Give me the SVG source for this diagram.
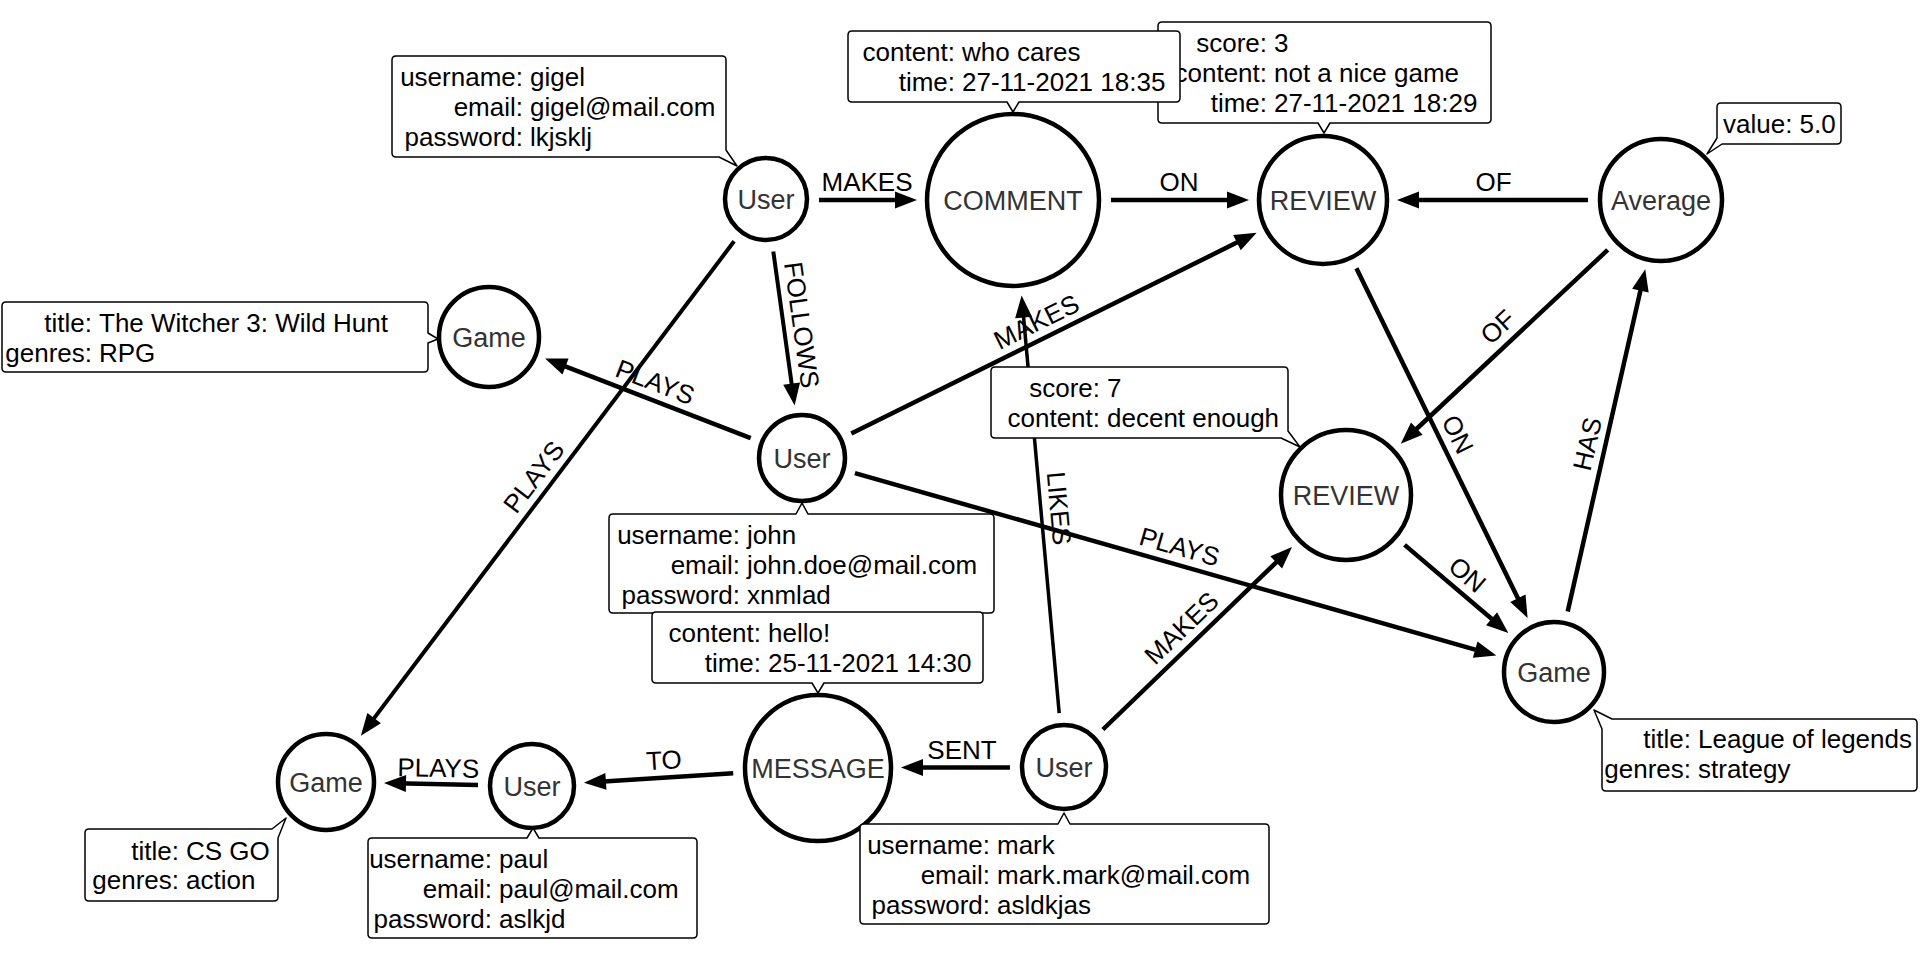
<svg xmlns="http://www.w3.org/2000/svg" width="1920" height="961" viewBox="0 0 1920 961">
  <style>
    .bg { fill: #ffffff; }
    .edge { fill: none; stroke: #000; stroke-width: 4.5; marker-end: url(#arrow); }
    .thin { stroke-width: 3.5; }
    .mid { stroke-width: 4; }
    .elabel { font-family: "Liberation Sans", Arial, sans-serif; font-size: 26px; fill: #000; text-anchor: middle; }
    .node circle { fill: #fff; stroke: #000; stroke-width: 4.5; }
    .ntext { font-family: "Liberation Sans", Arial, sans-serif; font-size: 27px; fill: #333; text-anchor: middle; }
    .callout { fill: #fff; stroke: #000; stroke-width: 1.5; stroke-linejoin: round; }
    .props { font-family: "Liberation Sans", Arial, sans-serif; font-size: 26px; fill: #000; }
    .k { text-anchor: end; }
    .v { text-anchor: start; }
  </style>
  <defs>
    <marker id="arrow" markerUnits="userSpaceOnUse" markerWidth="22" markerHeight="17" refX="10" refY="8.5" orient="auto" overflow="visible">
      <path d="M0,0 L22,8.5 L0,17 Z" fill="#000"/>
    </marker>
  </defs>
  <rect class="bg" x="0" y="0" width="1920" height="961"/>

  <!-- relationships -->
  <g id="connectors">
    <line class="edge" x1="819" y1="200" x2="905" y2="200"/>
    <line class="edge" x1="1111" y1="200" x2="1237" y2="200"/>
    <line class="edge" x1="1588" y1="200" x2="1409" y2="200"/>
    <line class="edge mid" x1="773.3" y1="251.5" x2="793" y2="393.6"/>
    <line class="edge mid" x1="734.1" y1="241.3" x2="368.1" y2="726.1"/>
    <line class="edge" x1="750.7" y1="438.2" x2="556.2" y2="362.9"/>
    <line class="edge" x1="851.3" y1="433.6" x2="1245.9" y2="238.1"/>
    <line class="edge" x1="854.9" y1="473.1" x2="1484.8" y2="652.3"/>
    <line class="edge thin" x1="1059.2" y1="713.2" x2="1022.7" y2="307.5"/>
    <line class="edge" x1="1102.9" y1="729.5" x2="1283.4" y2="555.4"/>
    <line class="edge" x1="1010" y1="767.5" x2="913" y2="767.5"/>
    <line class="edge" x1="733.2" y1="773.3" x2="595.9" y2="782"/>
    <line class="edge" x1="478" y1="785" x2="396" y2="783.3"/>
    <line class="edge" x1="1356.4" y1="268.3" x2="1522.3" y2="607.3"/>
    <line class="edge" x1="1404.6" y1="544.9" x2="1499.2" y2="625.3"/>
    <line class="edge" x1="1607.7" y1="249.9" x2="1409.5" y2="435.5"/>
    <line class="edge" x1="1567.7" y1="611.5" x2="1642.6" y2="280.9"/>

    <text class="elabel" transform="translate(867,200)" y="-9">MAKES</text>
    <text class="elabel" transform="translate(1179,200)" y="-9">ON</text>
    <text class="elabel" transform="translate(1493.5,200)" y="-9">OF</text>
    <text class="elabel" transform="translate(783.9,327.5) rotate(82.09)" y="-9">FOLLOWS</text>
    <text class="elabel" transform="translate(548.1,487.7) rotate(-52.96)" y="-9">PLAYS</text>
    <text class="elabel" transform="translate(648.8,398.8) rotate(21.13)" y="-9">PLAYS</text>
    <text class="elabel" transform="translate(1044.4,338) rotate(-26.34)" y="-9">MAKES</text>
    <text class="elabel" transform="translate(1174.6,564) rotate(15.88)" y="-9">PLAYS</text>
    <text class="elabel" transform="translate(1041,510) rotate(84.86)" y="-9">LIKES</text>
    <text class="elabel" transform="translate(1194,641) rotate(-43.96)" y="-9">MAKES</text>
    <text class="elabel" transform="translate(962,767.5)" y="-9">SENT</text>
    <text class="elabel" transform="translate(665,778) rotate(-3.6)" y="-9">TO</text>
    <text class="elabel" transform="translate(438,783) rotate(1.1)" y="-6">PLAYS</text>
    <text class="elabel" transform="translate(1441.6,442.3) rotate(63.93)" y="-9">ON</text>
    <text class="elabel" transform="translate(1455.7,588.4) rotate(40.4)" y="-9">ON</text>
    <text class="elabel" transform="translate(1510,340) rotate(-43.12)" y="-9">OF</text>
    <text class="elabel" transform="translate(1605,448) rotate(-77.23)" y="-9">HAS</text>
  </g>

  <!-- nodes with their property callouts -->
  <g id="user-gigel" class="node">
    <circle cx="766" cy="199" r="41"/>
    <text class="ntext" x="766" y="208.5">User</text>
    <path class="callout" d="M396,56 H722 Q726,56 726,60 V150 L737,166 L719,157 H396 Q392,157 392,153 V60 Q392,56 396,56 Z"/>
    <text class="props" y="85.5"><tspan class="k" x="523">username:</tspan><tspan class="v" x="530">gigel</tspan></text>
    <text class="props" y="115.5"><tspan class="k" x="523">email:</tspan><tspan class="v" x="530">gigel@mail.com</tspan></text>
    <text class="props" y="145.5"><tspan class="k" x="523">password:</tspan><tspan class="v" x="530">lkjsklj</tspan></text>
  </g>

  <g id="game-witcher" class="node">
    <circle cx="489" cy="337" r="50"/>
    <text class="ntext" x="489" y="346.5">Game</text>
    <path class="callout" d="M6,302 H424 Q428,302 428,306 V333 L438,339 L428,343 V368 Q428,372 424,372 H6 Q2,372 2,368 V306 Q2,302 6,302 Z"/>
    <text class="props" y="331.5"><tspan class="k" x="92">title:</tspan><tspan class="v" x="99">The Witcher 3: Wild Hunt</tspan></text>
    <text class="props" y="361.5"><tspan class="k" x="92">genres:</tspan><tspan class="v" x="99">RPG</tspan></text>
  </g>

  <g id="user-john" class="node">
    <circle cx="802" cy="458" r="43"/>
    <text class="ntext" x="802" y="467.5">User</text>
    <path class="callout" d="M613,514 H796 L802,503 L808,514 H990 Q994,514 994,518 V609 Q994,613 990,613 H613 Q609,613 609,609 V518 Q609,514 613,514 Z"/>
    <text class="props" y="543.5"><tspan class="k" x="740">username:</tspan><tspan class="v" x="747">john</tspan></text>
    <text class="props" y="573.5"><tspan class="k" x="740">email:</tspan><tspan class="v" x="747">john.doe@mail.com</tspan></text>
    <text class="props" y="603.5"><tspan class="k" x="740">password:</tspan><tspan class="v" x="747">xnmlad</tspan></text>
  </g>

  <g id="review-1" class="node">
    <circle cx="1323" cy="200" r="64"/>
    <text class="ntext" x="1323" y="209.5">REVIEW</text>
    <path class="callout" d="M1162,22 H1487 Q1491,22 1491,26 V119 Q1491,123 1487,123 H1330 L1324,133 L1318,123 H1162 Q1158,123 1158,119 V26 Q1158,22 1162,22 Z"/>
    <text class="props" y="51.5"><tspan class="k" x="1267">score:</tspan><tspan class="v" x="1274">3</tspan></text>
    <text class="props" y="81.5"><tspan class="k" x="1267">content:</tspan><tspan class="v" x="1274">not a nice game</tspan></text>
    <text class="props" y="111.5"><tspan class="k" x="1267">time:</tspan><tspan class="v" x="1274">27-11-2021 18:29</tspan></text>
  </g>

  <g id="comment" class="node">
    <circle cx="1013" cy="200" r="86"/>
    <text class="ntext" x="1013" y="209.5">COMMENT</text>
    <path class="callout" d="M852,31 H1176 Q1180,31 1180,35 V98 Q1180,102 1176,102 H1019 L1013,112 L1007,102 H852 Q848,102 848,98 V35 Q848,31 852,31 Z"/>
    <text class="props" y="60.5"><tspan class="k" x="955">content:</tspan><tspan class="v" x="962">who cares</tspan></text>
    <text class="props" y="90.5"><tspan class="k" x="955">time:</tspan><tspan class="v" x="962">27-11-2021 18:35</tspan></text>
  </g>

  <g id="average" class="node">
    <circle cx="1661" cy="200" r="61"/>
    <text class="ntext" x="1661" y="209.5">Average</text>
    <path class="callout" d="M1721,103 H1837 Q1841,103 1841,107 V140 Q1841,144 1837,144 H1722 L1707,154 L1717,138 V107 Q1717,103 1721,103 Z"/>
    <text class="props" x="1723" y="132.5">value: 5.0</text>
  </g>

  <g id="review-2" class="node">
    <circle cx="1346" cy="495" r="65"/>
    <text class="ntext" x="1346" y="504.5">REVIEW</text>
    <path class="callout" d="M995,367 H1284 Q1288,367 1288,371 V431 L1300,447 L1281,438 H995 Q991,438 991,434 V371 Q991,367 995,367 Z"/>
    <text class="props" y="396.5"><tspan class="k" x="1100">score:</tspan><tspan class="v" x="1107">7</tspan></text>
    <text class="props" y="426.5"><tspan class="k" x="1100">content:</tspan><tspan class="v" x="1107">decent enough</tspan></text>
  </g>

  <g id="game-lol" class="node">
    <circle cx="1554" cy="672" r="50"/>
    <text class="ntext" x="1554" y="681.5">Game</text>
    <path class="callout" d="M1612,719 H1913 Q1917,719 1917,723 V787 Q1917,791 1913,791 H1606 Q1602,791 1602,787 V729 L1594,710 Z"/>
    <text class="props" y="748"><tspan class="k" x="1691">title:</tspan><tspan class="v" x="1698">League of legends</tspan></text>
    <text class="props" y="777.5"><tspan class="k" x="1691">genres:</tspan><tspan class="v" x="1698">strategy</tspan></text>
  </g>

  <g id="game-csgo" class="node">
    <circle cx="326" cy="782" r="48"/>
    <text class="ntext" x="326" y="791.5">Game</text>
    <path class="callout" d="M89,829 H272 L286,818 L278,838 V897 Q278,901 274,901 H89 Q85,901 85,897 V833 Q85,829 89,829 Z"/>
    <text class="props" y="859.5"><tspan class="k" x="179">title:</tspan><tspan class="v" x="186">CS GO</tspan></text>
    <text class="props" y="889"><tspan class="k" x="179">genres:</tspan><tspan class="v" x="186">action</tspan></text>
  </g>

  <g id="user-paul" class="node">
    <circle cx="532" cy="786" r="42"/>
    <text class="ntext" x="532" y="795.5">User</text>
    <path class="callout" d="M372,838 H527 L533,828 L539,838 H693 Q697,838 697,842 V934 Q697,938 693,938 H372 Q368,938 368,934 V842 Q368,838 372,838 Z"/>
    <text class="props" y="867.5"><tspan class="k" x="492">username:</tspan><tspan class="v" x="499">paul</tspan></text>
    <text class="props" y="897.5"><tspan class="k" x="492">email:</tspan><tspan class="v" x="499">paul@mail.com</tspan></text>
    <text class="props" y="927.5"><tspan class="k" x="492">password:</tspan><tspan class="v" x="499">aslkjd</tspan></text>
  </g>

  <g id="message" class="node">
    <circle cx="818" cy="768" r="73"/>
    <text class="ntext" x="818" y="777.5">MESSAGE</text>
    <path class="callout" d="M656,612 H979 Q983,612 983,616 V679 Q983,683 979,683 H824 L818,693 L812,683 H656 Q652,683 652,679 V616 Q652,612 656,612 Z"/>
    <text class="props" y="641.5"><tspan class="k" x="761">content:</tspan><tspan class="v" x="768">hello!</tspan></text>
    <text class="props" y="671.5"><tspan class="k" x="761">time:</tspan><tspan class="v" x="768">25-11-2021 14:30</tspan></text>
  </g>

  <g id="user-mark" class="node">
    <circle cx="1064" cy="767" r="42"/>
    <text class="ntext" x="1064" y="776.5">User</text>
    <path class="callout" d="M864,824 H1058 L1064,813 L1070,824 H1265 Q1269,824 1269,828 V920 Q1269,924 1265,924 H864 Q860,924 860,920 V828 Q860,824 864,824 Z"/>
    <text class="props" y="853.5"><tspan class="k" x="990">username:</tspan><tspan class="v" x="997">mark</tspan></text>
    <text class="props" y="883.5"><tspan class="k" x="990">email:</tspan><tspan class="v" x="997">mark.mark@mail.com</tspan></text>
    <text class="props" y="913.5"><tspan class="k" x="990">password:</tspan><tspan class="v" x="997">asldkjas</tspan></text>
  </g>
</svg>
